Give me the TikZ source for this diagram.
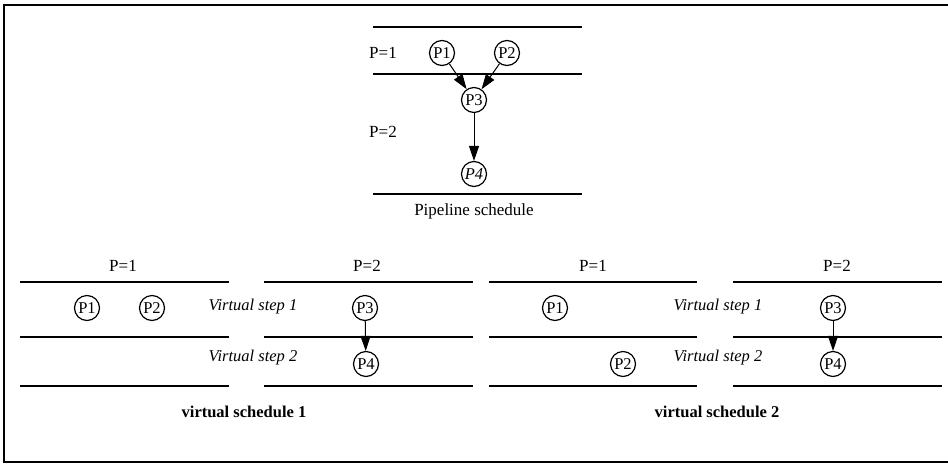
\documentclass[tikz,border=0pt]{standalone}
\usepackage{fontspec}
\setmainfont{Liberation Serif}
\usetikzlibrary{arrows.meta}
\begin{document}
\begin{tikzpicture}[x=1pt,y=-1pt,
  proc/.style={draw,circle,line width=1.2pt,minimum size=25pt,inner sep=0pt,font=\fontsize{16.5}{18}\selectfont},
  lbl/.style={font=\fontsize{17}{19}\selectfont,inner sep=0pt},
  vstep/.style={font=\fontsize{16.5}{19}\selectfont\itshape,inner sep=0pt},
  title/.style={font=\fontsize{16.5}{19}\selectfont\bfseries,inner sep=0pt},
  rule/.style={line width=1.3pt},
  arr/.style={line width=1pt,-{Triangle[length=15pt,width=10pt]}}]
\useasboundingbox (0,0) rectangle (948,464);
\fill[white] (0,0) rectangle (948,464);
% frame (right side cut off)
\draw[line width=1.8pt] (948,5) -- (4,5) -- (4,462) -- (948,462);

% ---------- Pipeline schedule ----------
\draw[rule] (373,27) -- (582,27);
\draw[rule] (373,74) -- (582,74);
\draw[rule] (373,194) -- (582,194);
\node[lbl] (tp1) at (383,53) {P=1};
\node[lbl] (tp2) at (383,132) {P=2};
\node[proc] (a1) at (442,53) {P1};
\node[proc] (a2) at (507,53) {P2};
\node[proc] (a3) at (474,100) {P3};
\node[proc] (a4) at (474,174) {\textit{P4}};
\draw[arr] (a1) -- (a3);
\draw[arr] (a2) -- (a3);
\draw[arr] (a3) -- (a4);
\node[lbl] (tps) at (474,211) {Pipeline schedule};

% ---------- virtual schedule 1 ----------
\foreach \y in {282,337,386} {
  \draw[rule] (20,\y) -- (229,\y);
  \draw[rule] (264,\y) -- (473,\y);
}
\node[lbl] (l1) at (123,266) {P=1};
\node[lbl] (l2) at (367,266) {P=2};
\node[proc] (b1) at (87,308) {P1};
\node[proc] (b2) at (152,308) {P2};
\node[proc] (b3) at (365,308) {P3};
\node[proc] (b4) at (366,364) {P4};
\draw[arr] (b3) -- (b4);
\node[vstep] (bv1) at (253,307) {Virtual step 1};
\node[vstep] (bv2) at (253,358) {Virtual step 2};
\node[title] (bt) at (244,412) {virtual schedule 1};

% ---------- virtual schedule 2 ----------
\foreach \y in {282,337,386} {
  \draw[rule] (489,\y) -- (697,\y);
  \draw[rule] (733,\y) -- (942,\y);
}
\node[lbl] (r1) at (593,266) {P=1};
\node[lbl] (r2) at (837,266) {P=2};
\node[proc] (c1) at (555,308) {P1};
\node[proc] (c2) at (623,364) {P2};
\node[proc] (c3) at (833,308) {P3};
\node[proc] (c4) at (833,364) {P4};
\draw[arr] (c3) -- (c4);
\node[vstep] (cv1) at (718,307) {Virtual step 1};
\node[vstep] (cv2) at (718,358) {Virtual step 2};
\node[title] (ct) at (717,412) {virtual schedule 2};
\end{tikzpicture}
\end{document}
